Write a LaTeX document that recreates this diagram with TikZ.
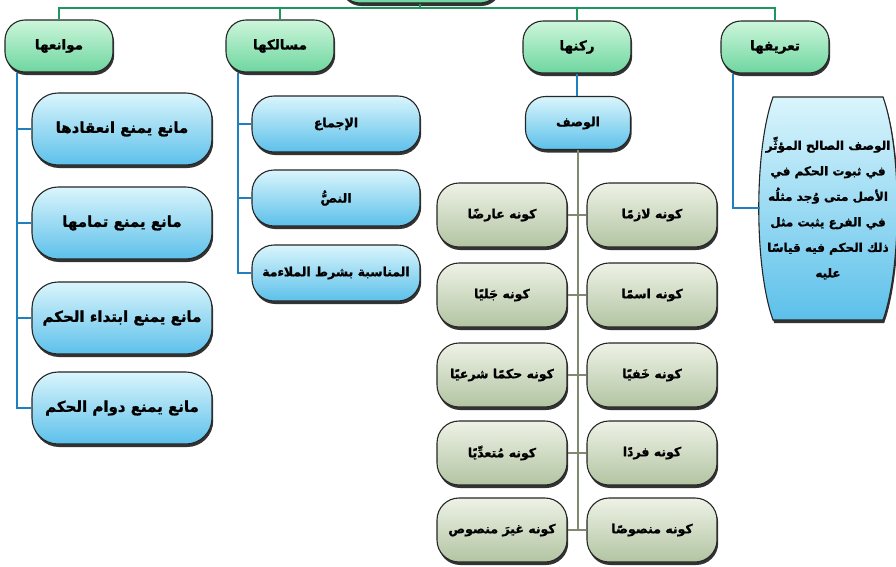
\documentclass[tikz,border=0pt]{standalone}
\usepackage{fontspec}
\newfontfamily\arfont[Script=Arabic, BoldFeatures={FakeBold=1.2}]{DejaVu Sans}
\TeXXeTstate=1
\usetikzlibrary{shadows}
\newcommand\artx[1]{\beginR #1\endR}
\definecolor{gtop}{RGB}{205,246,218}
\definecolor{gbot}{RGB}{110,214,160}
\definecolor{btop}{RGB}{218,245,252}
\definecolor{bbot}{RGB}{92,192,234}
\definecolor{ytop}{RGB}{238,242,230}
\definecolor{ybot}{RGB}{178,196,162}
\definecolor{gline}{RGB}{30,150,95}
\definecolor{bline}{RGB}{30,128,190}
\definecolor{oline}{RGB}{128,138,112}
\tikzset{
  boxbase/.style={draw=black!85, line width=1.1pt, rounded corners=20pt,
    drop shadow={shadow xshift=1.2pt, shadow yshift=-3pt, opacity=0.8, fill=black},
    inner sep=0pt, align=center, font=\arfont\bfseries\fontsize{12.5}{15}\selectfont},
  lvlone/.style={boxbase, top color=gtop, bottom color=gbot, minimum width=108pt, minimum height=52pt, font=\arfont\bfseries\fontsize{13.5}{16}\selectfont},
  bluebox/.style={boxbase, top color=btop, bottom color=bbot},
  greybox/.style={boxbase, top color=ytop, bottom color=ybot, minimum width=130pt, minimum height=64pt, rounded corners=22pt},
  gconn/.style={draw=gline, line width=2.2pt},
  bconn/.style={draw=bline, line width=2.2pt},
  oconn/.style={draw=oline, line width=2.4pt},
}
\begin{document}
\begin{tikzpicture}[x=1pt, y=-1pt]
\useasboundingbox (0,0) rectangle (896,566);
\clip (0,0) rectangle (896,566);
\fill[white] (0,0) rectangle (896,566);

% root (cut off at top)
\node[lvlone, minimum width=160pt, minimum height=46pt] (root) at (420,-20) {};

% level one
\node[lvlone] (mawani) at (59,46) {\artx{موانعها}};
\node[lvlone] (masalik) at (280,46) {\artx{مسالكها}};
\node[lvlone] (rukn) at (577,47) {\artx{ركنها}};
\node[lvlone] (tarif) at (775,47) {\artx{تعريفها}};

\coordinate (hbar) at (0,8);
\draw[gconn] (mawani.north) |- (tarif.north |- hbar) -- (tarif.north);
\draw[gconn] (masalik.north) -- (masalik.north |- hbar);
\draw[gconn] (rukn.north) -- (rukn.north |- hbar);
\draw[gconn] (root.south) -- (root.south |- hbar);

% mawani children
\foreach \n/\y/\t in {m1/129/مانع يمنع انعقادها, m2/223/مانع يمنع تمامها, m3/318/مانع يمنع ابتداء الحكم, m4/408/مانع يمنع دوام الحكم}{
  \node[bluebox, minimum width=180pt, minimum height=72pt, rounded corners=26pt,
        font=\arfont\bfseries\fontsize{15}{18}\selectfont] (\n) at (122,\y) {\artx{\t}};
}
\foreach \n in {m1,m2,m3,m4}{
  \draw[bconn] ([xshift=-42pt]mawani.south) |- (\n.west);
}

% masalik children
\foreach \n/\y/\t in {s1/124/الإجماع, s2/198/النصُّ, s3/273/المناسبة بشرط الملاءمة}{
  \node[bluebox, minimum width=168pt, minimum height=56pt, rounded corners=22pt] (\n) at (336,\y) {\artx{\t}};
}
\foreach \n in {s1,s2,s3}{
  \draw[bconn] ([xshift=-42pt]masalik.south) |- (\n.west);
}

% definition (barrel shape)
\path[draw=black!85, line width=1.1pt, top color=btop, bottom color=bbot,
      drop shadow={shadow xshift=1.2pt, shadow yshift=-3pt, opacity=0.8, fill=black}]
  (773,97) -- (883,97) .. controls (902,150) and (902,267) .. (883,320)
  -- (773,320) .. controls (754,267) and (754,150) .. (773,97) -- cycle;
\node[inner sep=0pt, minimum width=136pt, minimum height=222pt, align=center,
      font=\arfont\bfseries\fontsize{12}{25.5}\selectfont] (def) at (828,208)
  {\artx{الوصف الصالح المؤثِّر}\\ \artx{في ثبوت الحكم في}\\ \artx{الأصل متى وُجد مثلُه}\\ \artx{في الفرع يثبت مثل}\\ \artx{ذلك الحكم فيه قياسًا}\\ \artx{عليه}};
\draw[bconn] ([xshift=-42pt]tarif.south) |- (def.west);

% wasf
\node[bluebox, minimum width=105pt, minimum height=53pt] (wasf) at (578,123) {\artx{الوصف}};
\draw[bconn] (rukn.south) -- (rukn.south |- wasf.north);

% grey boxes
\foreach \n/\y/\t in {r1/215/كونه لازمًا, r2/295/كونه اسمًا, r3/375/كونه خَفيًا, r4/453/كونه فردًا, r5/530/كونه منصوصًا}{
  \node[greybox] (\n) at (652,\y) {\artx{\t}};
}
\foreach \n/\y/\t in {l1/215/كونه عارضًا, l2/295/كونه جَليًا, l3/375/كونه حكمًا شرعيًا, l4/453/كونه مُتعدِّيًا, l5/530/كونه غيرَ منصوص}{
  \node[greybox] (\n) at (502,\y) {\artx{\t}};
}
\draw[oconn] (wasf.south) -- (wasf.south |- r5.west);
\foreach \i in {1,...,5}{
  \draw[oconn] (l\i.east) -- (r\i.west);
}
\end{tikzpicture}
\end{document}
